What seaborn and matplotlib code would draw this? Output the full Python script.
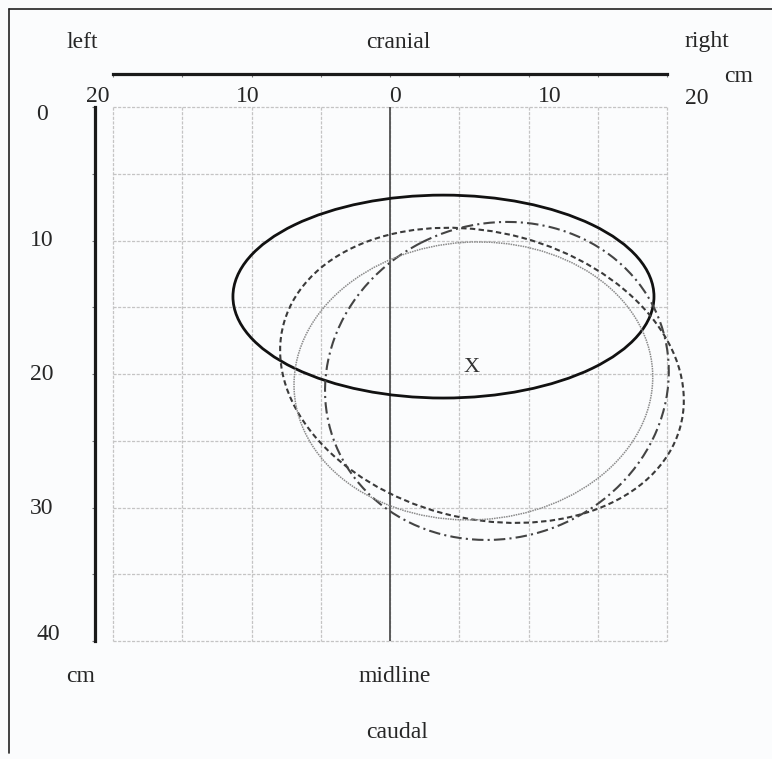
import numpy as np
import pandas as pd
import matplotlib
matplotlib.use("Agg")
import matplotlib.pyplot as plt
from matplotlib.patches import Ellipse
from matplotlib.lines import Line2D
import seaborn as sns

# ---- data (cm) ----
ellipse_names = ["solid", "dashed", "dashdot", "dotted"]
center_x = [3.86, 6.64, 7.72, 6.02]
center_y = [14.2, 20.1, 20.52, 20.52]
width_cm = [30.4, 29.66, 25.2, 25.92]
height_cm = [15.2, 21.42, 23.42, 20.8]
angle_deg = [0.0, 15.5, -27.9, -3.6]

marker_x = [5.9]
marker_y = [19.5]
marker_label = ["X"]

midline_x = [0, 0]
midline_y = [0, 40]

grid_ticks_x = list(range(-20, 21, 5))
grid_ticks_y = list(range(0, 41, 5))
top_tick_vals = [-20, -10, 0, 10, 20]
top_tick_text = ["20", "10", "0", "10", "20"]
left_tick_vals = [0, 10, 20, 30, 40]
left_tick_text = ["0", "10", "20", "30", "40"]

# ---- style ----
sns.set_theme(style="white")
plt.rcParams["font.family"] = ["Liberation Serif", "DejaVu Serif"]
BG = "#fbfcfd"
TXT = "#262626"

fig = plt.figure(figsize=(7.72, 7.59), dpi=100, facecolor=BG)
W, H = 772, 759
def fx(px):
    return px / W
def fy(py):
    return 1 - py / H

ax = fig.add_axes([fx(113), fy(641), fx(667) - fx(113), fy(107) - fy(641)])
ax.set_facecolor(BG)
ax.set_xlim(-20, 20)
ax.set_ylim(40, 0)

# ticks (no labels) and grid
ax.set_xticks(grid_ticks_x)
ax.set_yticks(grid_ticks_y)
ax.set_xticklabels([])
ax.set_yticklabels([])
ax.grid(False)
grid_style = dict(colors="#c4c4c4", linestyles=[(0, (2.5, 1.2))], linewidth=0.9,
                  clip_on=False, zorder=0.5)
ax.vlines(grid_ticks_x, 0, 40, **grid_style)
ax.hlines(grid_ticks_y, -20, 20, **grid_style)

for s in ["right", "bottom"]:
    ax.spines[s].set_visible(False)
ax.spines["top"].set_position(("outward", 33 * 0.72))
ax.spines["top"].set_linewidth(2.3)
ax.spines["top"].set_color("#1a1a1a")
ax.spines["left"].set_position(("outward", 18 * 0.72))
ax.spines["left"].set_linewidth(2.3)
ax.spines["left"].set_color("#1a1a1a")
ax.xaxis.set_ticks_position("top")
ax.yaxis.set_ticks_position("left")
ax.tick_params(axis="x", direction="in", length=2.5, width=0.8, color="#777777", pad=0)
ax.tick_params(axis="y", direction="out", length=2.5, width=0.8, color="#777777", pad=0)

# midline
sns.lineplot(x=midline_x, y=midline_y, ax=ax, color="#505050", linewidth=1.3,
             sort=False, estimator=None)

# ellipses
styles = {
    "solid": dict(edgecolor="#111111", linewidth=2.0, linestyle="-"),
    "dashed": dict(edgecolor="#3a3a3a", linewidth=1.5, linestyle=(0, (2.6, 1.6))),
    "dashdot": dict(edgecolor="#444444", linewidth=1.5, linestyle=(0, (5.5, 2.0, 1.0, 2.0))),
    "dotted": dict(edgecolor="#8a8a8a", linewidth=1.1, linestyle=(0, (1, 0.6))),
}
for n, cx, cy, w, h, a in zip(ellipse_names, center_x, center_y, width_cm, height_cm, angle_deg):
    e = Ellipse((cx, cy), w, h, angle=a, facecolor="none", clip_on=False, zorder=3, **styles[n])
    ax.add_patch(e)

for mx, my, ml in zip(marker_x, marker_y, marker_label):
    ax.text(mx, my, ml, ha="center", va="center", fontsize=16, color="#333333")

# labels (placed in pixel positions of the figure)
def ftext(px, py, s, **kw):
    fig.text(fx(px), fy(py), s, ha="center", va="center", fontsize=17, color=TXT, **kw)

ftext(82, 42, "left")
ftext(398, 42, "cranial")
ftext(707, 42, "right")
ftext(739, 76, "cm")
top_px = [98, 248, 395, 550, 697]
top_py = [96, 96, 97, 96, 99]
for v, t, px, py in zip(top_tick_vals, top_tick_text, top_px, top_py):
    ftext(px, py, t)
left_px = [42, 42, 42, 42, 48]
left_py = [114, 241, 374, 508, 635]
for v, t, px, py in zip(left_tick_vals, left_tick_text, left_px, left_py):
    ftext(px, py, t)
ftext(81, 677, "cm")
ftext(395, 677, "midline")
ftext(397, 733, "caudal")

# frame lines (left and top)
fig.add_artist(Line2D([fx(9), fx(9)], [fy(9), fy(753)], transform=fig.transFigure,
                      color="#222222", linewidth=1.2))
fig.add_artist(Line2D([fx(9), 1.0], [fy(9), fy(9)], transform=fig.transFigure,
                      color="#222222", linewidth=1.2))

fig.savefig("out.png", dpi=100, facecolor=BG)
